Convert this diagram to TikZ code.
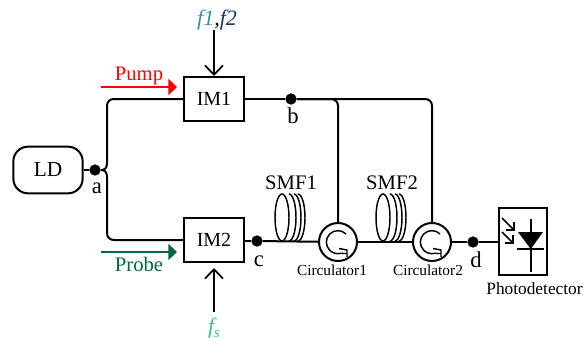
\documentclass[tikz,border=0pt]{standalone}
\usepackage{fontspec}
\setmainfont{Liberation Serif}
\usepackage{xcolor}
\usetikzlibrary{arrows.meta}
\definecolor{pumpred}{RGB}{255,0,0}
\definecolor{probegreen}{RGB}{0,105,60}
\definecolor{fonecol}{RGB}{62,140,165}
\definecolor{ftwocol}{RGB}{20,50,110}
\definecolor{fscol}{RGB}{50,195,120}
\tikzset{
  fiber/.style={line width=1.5pt,rounded corners=5pt},
  box/.style={draw,line width=1.5pt,minimum width=45pt,minimum height=33pt,inner sep=0pt,font=\fontsize{15}{17}\selectfont},
  probe/.style={circle,fill,inner sep=0pt,minimum size=8.5pt},
  lbl/.style={inner sep=0pt,font=\fontsize{15.5}{18}\selectfont},
  pointlbl/.style={inner sep=0pt,font=\fontsize{17}{19}\selectfont},
  small/.style={inner sep=0pt,font=\fontsize{11.5}{13}\selectfont},
  rf/.style={line width=1.3pt,-{Straight Barb[length=7pt,width=13.5pt,line width=1.3pt]}},
  tag/.style={line width=1.5pt,-{Triangle[length=6.5pt,width=12pt]}},
  circ/.style={draw,circle,line width=1.5pt,minimum size=28.5pt,inner sep=0pt,fill=white},
  coil/.style={line width=1.1pt}
}
\begin{document}
\begin{tikzpicture}[x=0.75pt,y=-0.75pt]
    \useasboundingbox (0,0) rectangle (583,340);

    % sources and modulators
    \node[draw,line width=1.5pt,rounded corners=11pt,minimum width=52pt,minimum height=35pt,inner sep=0pt,font=\fontsize{16}{18}\selectfont] (ld) at (48,170) {LD};
    \node[box] (im1) at (214,99) {IM1};
    \node[box] (im2) at (214,240) {IM2};

    \node[probe] (a) at (95,170) {};
    \node[probe] (b) at (291,99) {};
    \node[probe] (c) at (257,241) {};
    \node[probe] (d) at (473,242) {};
    \node[pointlbl] (la) at (97,188) {a};
    \node[pointlbl] (lb) at (293,116) {b};
    \node[pointlbl] (lc) at (259,261) {c};
    \node[pointlbl] (ld2) at (476,260) {d};

    \node[circ] (cir1) at (338,242) {};
    \node[circ] (cir2) at (432,242) {};
    \node[small] (lc1) at (332,270) {Circulator1};
    \node[small] (lc2) at (428,270) {Circulator2};

    \node[draw,line width=1.5pt,minimum width=36.5pt,minimum height=50pt,inner sep=0pt] (pd) at (523,241.5) {};
    \node[inner sep=0pt,font=\fontsize{13}{15}\selectfont] (lpd) at (534.5,289) {Photodetector};

    \coordinate (split) at (101,170);
    \coordinate (upper) at (107,163);
    \coordinate (lower) at (107,177);
    \coordinate (upcorner) at (107,99);
    \coordinate (lowcorner) at (107,240);
    \coordinate (top) at (338,99);
    \coordinate (top2) at (432,99);

    % fibers
    \draw[fiber] (ld) -- (a);
    \draw[fiber] (a) -- (split);
    \draw[line width=1.5pt] (split) .. controls (105,170) and (107,168) .. (upper);
    \draw[line width=1.5pt] (split) .. controls (105,170) and (107,172) .. (lower);
    \draw[fiber] (upper) -- (upcorner) -- (im1.west);
    \draw[fiber] (lower) -- (lowcorner) -- (im2.west);
    \draw[fiber] (im1) -- (b);
    \draw[fiber] (b) -- (top) -- (cir1.north);
    \draw[fiber] (b) -- (top2) -- (cir2.north);
    \draw[fiber] (im2.east |- c) -- (c);
    \draw[fiber] (c) -- (cir1);
    \draw[fiber] (cir1) -- (cir2);
    \draw[fiber] (cir2) -- (d);
    \draw[fiber] (d) -- (pd.west |- d);

    % fiber spools
    \foreach \ox in {275,376}{
      \begin{scope}[shift={(\ox,0)}]
        \draw[coil] (7,217.5) ellipse [x radius=7,y radius=23.5];
        \foreach \dx in {14,19,23}{
          \draw[coil] (\dx,194) arc [start angle=-90,end angle=90,x radius=7,y radius=23.5];
        }
      \end{scope}
    }
    \node[lbl] (smf1) at (291,183) {SMF1};
    \node[lbl] (smf2) at (392,183) {SMF2};

    % circulator marks
    \foreach \cn in {cir1,cir2}{
      \begin{scope}[shift={(\cn)}]
        \draw[line width=1.1pt] (8,-8) arc [start angle=-45,end angle=-280,radius=11.5] -- (9,11.5);
        \draw[line width=1.1pt] (1,6.5) -- (9,8) -- (9,15);
      \end{scope}
    }

    % labels with arrows
    \node[lbl,text=pumpred] (pump) at (139,76) {Pump};
    \node[lbl,text=probegreen] (probe) at (139,264) {Probe};
    \coordinate (pumpstart) at (101,87);
    \coordinate (pumpend) at (177,87);
    \coordinate (probestart) at (101,252);
    \coordinate (probeend) at (177,252);
    \draw[tag,pumpred] (pumpstart) -- (pumpend);
    \draw[tag,probegreen] (probestart) -- (probeend);

    % RF drives
    \node[lbl,font=\fontsize{16.5}{18}\selectfont\itshape] (rf1) at (217,20) {\textcolor{fonecol}{f1},\textcolor{ftwocol}{f2}};
    \node[lbl,text=fscol,font=\fontsize{16.5}{18}\selectfont\itshape] (rf2) at (214,328) {f\raisebox{-3pt}{\fontsize{11}{12}\selectfont s}};
    \coordinate (rf1s) at (214,30);
    \coordinate (rf2s) at (214,312);
    \coordinate (rf2e) at (214,268);
    \draw[rf] (rf1s) -- (im1.north);
    \draw[rf] (rf2s) -- (rf2e);

    % photodiode
    \draw[line width=1.3pt] (530.7,219) -- (530.7,272);
    \draw[line width=1.3pt] (517,249) -- (544,249);
    \fill (518,232) -- (543,232) -- (530.7,249) -- cycle;
    \draw[line width=1.1pt] (502,218) -- (514,230);
    \draw[line width=1.1pt] (514,222) -- (514,230) -- (506,230);
    \draw[line width=1.1pt] (502,232) -- (513,243);
    \draw[line width=1.1pt] (513,235) -- (513,243) -- (505,243);
\end{tikzpicture}
\end{document}
